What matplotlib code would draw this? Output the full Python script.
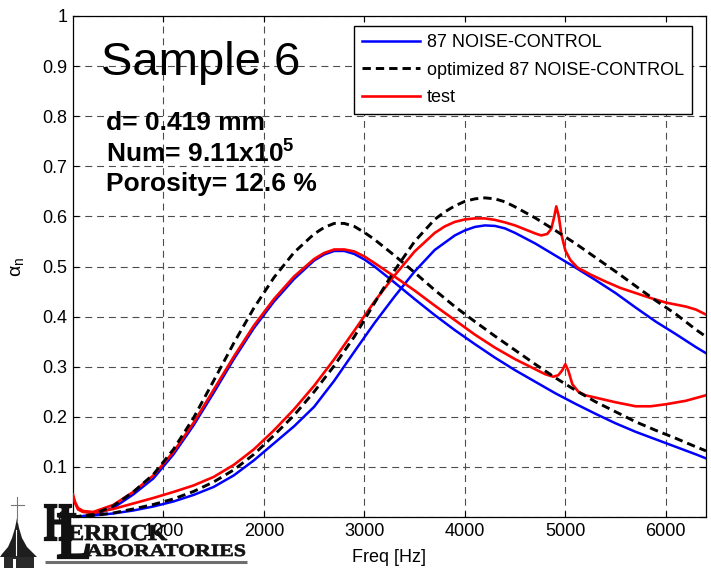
import matplotlib
matplotlib.use("Agg")
import matplotlib.pyplot as plt
from matplotlib.textpath import TextPath
from matplotlib.font_manager import FontProperties
from matplotlib.patches import PathPatch, Polygon, Rectangle
from matplotlib.transforms import Affine2D

plt.rcParams['font.family'] = ['Liberation Sans', 'DejaVu Sans']
plt.rcParams['mathtext.fontset'] = 'custom'
plt.rcParams['mathtext.rm'] = 'Liberation Sans'
plt.rcParams['mathtext.it'] = 'Liberation Sans:italic'
plt.rcParams['mathtext.bf'] = 'Liberation Sans:bold'
plt.rcParams['lines.scale_dashes'] = False

# ---- first sample set (absorption peak near 2.7 kHz) ----
freq_blue_a = [100, 300, 500, 700, 900, 1100, 1300, 1500, 1700, 1900, 2100, 2300,
               2500, 2600, 2700, 2800, 2900, 3000, 3100, 3300, 3500, 3700, 3900,
               4100, 4300, 4500, 4700, 4900, 5100, 5300, 5500, 5700, 5900, 6100,
               6300, 6400]
blue_a = [0.0, 0.004, 0.018, 0.045, 0.077, 0.125, 0.183, 0.248, 0.315, 0.377,
          0.43, 0.475, 0.512, 0.524, 0.531, 0.531, 0.525, 0.514, 0.5, 0.468,
          0.435, 0.403, 0.373, 0.345, 0.318, 0.293, 0.27, 0.247, 0.226, 0.206,
          0.187, 0.17, 0.155, 0.14, 0.125, 0.117]

freq_black_a = freq_blue_a
black_a = [0.0, 0.005, 0.022, 0.05, 0.085, 0.135, 0.198, 0.272, 0.347, 0.417,
           0.478, 0.528, 0.565, 0.578, 0.586, 0.586, 0.58, 0.568, 0.554, 0.522,
           0.488, 0.453, 0.42, 0.39, 0.361, 0.333, 0.305, 0.278, 0.253, 0.23,
           0.21, 0.19, 0.173, 0.157, 0.14, 0.132]

freq_red_a = [100, 120, 150, 200, 300, 500, 700, 900, 1100, 1300, 1500, 1700,
              1900, 2100, 2300, 2500, 2600, 2700, 2800, 2900, 3000, 3100, 3300,
              3500, 3700, 3900, 4100, 4300, 4500, 4700, 4800, 4880, 4930, 4970,
              5000, 5030, 5070, 5130, 5200, 5350, 5500, 5700, 5850, 6000, 6200,
              6400]
red_a = [0.045, 0.03, 0.018, 0.012, 0.01, 0.024, 0.05, 0.083, 0.13, 0.188,
         0.254, 0.32, 0.382, 0.435, 0.48, 0.515, 0.527, 0.534, 0.534, 0.53,
         0.52, 0.507, 0.48, 0.452, 0.422, 0.393, 0.364, 0.338, 0.315, 0.295,
         0.285, 0.28, 0.283, 0.293, 0.305, 0.292, 0.265, 0.25, 0.243, 0.236,
         0.229, 0.221, 0.221, 0.225, 0.232, 0.243]

# ---- second sample set (absorption peak near 4.2 kHz) ----
freq_blue_b = [100, 300, 500, 700, 900, 1100, 1300, 1500, 1700, 1900, 2100, 2300,
               2500, 2700, 2900, 3100, 3300, 3500, 3700, 3900, 4000, 4100, 4200,
               4300, 4400, 4500, 4700, 4900, 5100, 5300, 5500, 5700, 5900, 6100,
               6300, 6400]
blue_b = [0.0, 0.003, 0.007, 0.013, 0.021, 0.031, 0.044, 0.06, 0.083, 0.113,
          0.147, 0.181, 0.22, 0.272, 0.33, 0.387, 0.44, 0.49, 0.533, 0.562,
          0.572, 0.579, 0.582, 0.581, 0.576, 0.567, 0.546, 0.522, 0.498, 0.473,
          0.447, 0.418, 0.39, 0.365, 0.339, 0.327]

freq_black_b = [100, 300, 500, 700, 900, 1100, 1300, 1500, 1700, 1900, 2100, 2300,
                2500, 2700, 2900, 3100, 3300, 3500, 3700, 3800, 3900, 4000, 4100,
                4200, 4300, 4400, 4500, 4700, 4900, 5100, 5300, 5500, 5700, 5900,
                6100, 6300, 6400]
black_b = [0.0, 0.003, 0.008, 0.016, 0.025, 0.036, 0.051, 0.07, 0.094, 0.125,
           0.163, 0.203, 0.25, 0.302, 0.36, 0.427, 0.492, 0.55, 0.594, 0.609,
           0.621, 0.63, 0.635, 0.637, 0.635, 0.629, 0.619, 0.597, 0.572, 0.546,
           0.518, 0.49, 0.461, 0.432, 0.405, 0.374, 0.36]

freq_red_b = [100, 120, 150, 200, 300, 500, 700, 900, 1100, 1300, 1500, 1700,
              1900, 2100, 2300, 2500, 2700, 2900, 3100, 3300, 3500, 3700, 3800,
              3900, 4000, 4100, 4200, 4300, 4400, 4500, 4600, 4700, 4760, 4820,
              4860, 4890, 4910, 4935, 4960, 5000, 5050, 5120, 5250, 5400, 5550,
              5700, 5850, 6000, 6200, 6300, 6400]
red_b = [0.04, 0.028, 0.015, 0.01, 0.008, 0.016, 0.027, 0.038, 0.05, 0.063,
         0.08, 0.104, 0.135, 0.173, 0.215, 0.262, 0.315, 0.372, 0.43, 0.482,
         0.53, 0.567, 0.58, 0.589, 0.594, 0.596, 0.596, 0.593, 0.588, 0.582,
         0.574, 0.566, 0.562, 0.565, 0.575, 0.6, 0.62, 0.6, 0.565, 0.532,
         0.513, 0.498, 0.484, 0.47, 0.457, 0.447, 0.437, 0.428, 0.42, 0.414,
         0.404]

legend_labels = ['87 NOISE-CONTROL', 'optimized 87 NOISE-CONTROL', 'test']
x_ticks = [1000, 2000, 3000, 4000, 5000, 6000]
y_ticks = [0, 0.1, 0.2, 0.3, 0.4, 0.5, 0.6, 0.7, 0.8, 0.9, 1]
y_tick_labels = ['0', '0.1', '0.2', '0.3', '0.4', '0.5', '0.6', '0.7', '0.8', '0.9', '1']

fig = plt.figure(figsize=(7.11, 5.68), dpi=100)
ax = fig.add_axes([73 / 711, 51 / 568, 633 / 711, 501 / 568])

blue_c, red_c = '#0000ff', '#ff0000'
dash = (0, (6, 3.6))

h_blue, = ax.plot(freq_blue_a, blue_a, color=blue_c, lw=1.8, zorder=3)
ax.plot(freq_blue_b, blue_b, color=blue_c, lw=1.8, zorder=3)
h_black, = ax.plot(freq_black_a, black_a, color='black', lw=2.1, linestyle=dash, zorder=4)
ax.plot(freq_black_b, black_b, color='black', lw=2.1, linestyle=dash, zorder=4)
h_red, = ax.plot(freq_red_a, red_a, color=red_c, lw=1.9, zorder=3.5)
ax.plot(freq_red_b, red_b, color=red_c, lw=1.9, zorder=3.5)

ax.set_xlim(100, 6400)
ax.set_ylim(0, 1)
ax.set_xticks(x_ticks)
ax.set_xticklabels([str(t) for t in x_ticks])
ax.set_yticks(y_ticks)
ax.set_yticklabels(y_tick_labels)
ax.tick_params(direction='in', top=True, right=True, length=4, width=0.8,
               labelsize=13, pad=4)
ax.grid(True, color='0.3', lw=0.8, linestyle=(0, (5, 3.5)))
ax.set_axisbelow(True)
for s in ax.spines.values():
    s.set_linewidth(0.9)

ax.set_xlabel('Freq [Hz]', fontsize=13, labelpad=7)
ax.set_ylabel(r'$\mathrm{\alpha_n}$', fontsize=14, labelpad=12)

ax.text(380, 0.882, 'Sample 6', fontsize=34, va='baseline', zorder=6)
ax.text(430, 0.772, 'd= 0.419 mm', fontsize=19, fontweight='bold', va='baseline', zorder=6)
ax.text(430, 0.708, r'Num= 9.11x10$^{\mathbf{5}}$', fontsize=19, fontweight='bold',
        va='baseline', zorder=6)
ax.text(430, 0.650, 'Porosity= 12.6 %', fontsize=19, fontweight='bold', va='baseline', zorder=6)

leg = ax.legend([h_blue, h_black, h_red], legend_labels, loc='upper right',
                bbox_to_anchor=(0.978, 0.980), borderaxespad=0, fontsize=13,
                fancybox=False, framealpha=1, edgecolor='black', handlelength=3.2,
                handletextpad=0.4, labelspacing=0.58, borderpad=0.45)
leg.get_frame().set_linewidth(1.0)
leg.set_zorder(10)

# ---- laboratory logo, drawn in pixel units on a transparent overlay ----
lax = fig.add_axes([0, 0, 1, 1], zorder=20)
lax.set_xlim(0, 711)
lax.set_ylim(568, 0)
lax.axis('off')
lax.patch.set_alpha(0)

serif = FontProperties(family='Liberation Serif', weight='bold')


def logo_word(s, x0, x1, base, cap, stroke=0.6, color='#111111'):
    p = TextPath((0, 0), s, size=1, prop=serif)
    bb = p.get_extents()
    sx = (x1 - x0) / bb.width
    sy = cap / bb.y1
    tr = Affine2D().translate(-bb.x0, 0).scale(sx, -sy).translate(x0, base)
    lax.add_patch(PathPatch(tr.transform_path(p), facecolor=color, edgecolor=color,
                            lw=stroke))


logo_word('H', 45, 71, 540, 35, stroke=1.6)
logo_word('L', 58, 89, 558, 44, stroke=1.6)
logo_word('ERRICK', 68, 167, 540, 15, stroke=0.5)
logo_word('ABORATORIES', 87, 245, 556, 11.5, stroke=0.5)
lax.plot([45, 247], [562, 562], color='#6e6e6e', lw=2.2, solid_capstyle='butt')

# steeple with cross
lax.plot([17, 17], [497, 522], color='#777777', lw=0.8)
lax.plot([11, 24], [505, 505], color='#777777', lw=0.8)
lax.add_patch(Polygon([(17, 518), (15, 528), (12, 538), (8, 547), (2, 554), (0, 557),
                       (37, 557), (33, 553), (27, 547), (22, 538), (19, 528)],
                      closed=True, facecolor='#1e1e1e', edgecolor='none'))
lax.plot([15.5, 15.5], [530, 555], color='white', lw=0.8)
lax.add_patch(Rectangle((4, 557), 30, 11, facecolor='#2a2a2a', edgecolor='none'))
lax.add_patch(Rectangle((13, 559), 3, 9, facecolor='white', edgecolor='none'))

fig.savefig('out.png', dpi=100)
